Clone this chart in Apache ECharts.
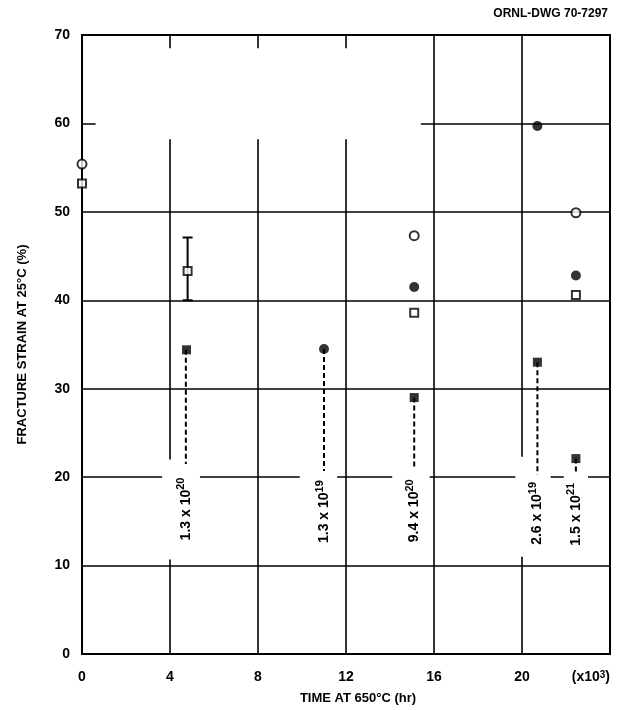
<!DOCTYPE html>
<html>
<head>
<meta charset="utf-8">
<script src="https://cdn.jsdelivr.net/npm/echarts@6/dist/echarts.min.js"></script>
<style>
  html, body { margin: 0; padding: 0; background: #fff; }
  #chart { width: 617px; height: 710px; }
</style>
</head>
<body>
<div id="chart"></div>
<script>
const xTicks = [0, 4, 8, 12, 16, 20]
const yTicks = [0, 10, 20, 30, 40, 50, 60, 70]
const heat5065Irr = [[11.0, 34.5], [15.1, 41.5], [20.7, 59.7], [22.45, 42.8]]
const heat5065Unirr = [[0, 55.4], [15.1, 47.3], [22.45, 49.9]]
const heat5085Irr = [[4.75, 34.4], [15.1, 29.0], [20.7, 33.0], [22.45, 22.1]]
const heat5085Unirr = [[0, 53.2], [4.8, 43.3], [15.1, 38.6], [22.45, 40.6]]
const errorBar5085 = [[4.8, 40.0, 47.1]]
// fluence notes: time, point value, end of dashed leader, label centre
const fluenceTimes = [4.72, 11.0, 15.1, 20.7, 22.45]
const fluenceFrom = [34.4, 34.5, 29.0, 33.0, 22.1]
const fluenceTo = [21.5, 20.7, 20.9, 20.3, 20.6]
const fluenceMid = [16.4, 16.1, 16.2, 15.9, 15.8]
const fluenceMant = ['1.3', '1.3', '9.4', '2.6', '1.5']
const fluenceExp = ['20', '19', '20', '19', '21']

// white gaps in the ruling (x0, x1, y0, y1 in axis units)
const gridBreaks = [
  [0.62, 15.4, 58.2, 68.5],
  [3.64, 5.36, 10.7, 22.0],
  [9.9, 11.6, 12.0, 21.0],
  [14.1, 15.8, 12.0, 21.0],
  [19.7, 21.3, 11.0, 22.3],
  [21.9, 23.0, 12.0, 21.5]
]

const FONT = 'Liberation Sans'
const chart = echarts.init(document.getElementById('chart'))

const fluenceData = fluenceTimes.map((t, i) => [t, fluenceFrom[i], fluenceTo[i], fluenceMid[i], i])

const option = {
  animation: false,
  backgroundColor: '#fff',
  grid: {
    left: 82, right: 7, top: 35, bottom: 54,
    show: true, borderColor: '#000', borderWidth: 2
  },
  xAxis: {
    type: 'value', min: 0, max: 24, interval: 4,
    name: 'TIME AT 650°C (hr)',
    nameLocation: 'middle', nameGap: 38,
    nameTextStyle: { fontFamily: FONT, fontWeight: 'bold', fontSize: 13, color: '#000', padding: [0, 0, 0, 24] },
    axisLine: { show: true, lineStyle: { color: '#000', width: 2 } },
    axisTick: { show: false },
    axisLabel: {
      margin: 16, color: '#000', fontFamily: FONT, fontWeight: 'bold', fontSize: 14,
      alignMaxLabel: 'right',
      formatter: v => (xTicks.indexOf(v) >= 0 ? String(v) : '{p|(x10}{s|3}{p|)}'),
      rich: {
        p: { fontFamily: FONT, fontWeight: 'bold', fontSize: 14, color: '#000' },
        s: { fontFamily: FONT, fontWeight: 'bold', fontSize: 10, color: '#000', verticalAlign: 'top' }
      }
    },
    splitLine: { show: true, lineStyle: { color: '#000', width: 1.6 } }
  },
  yAxis: {
    type: 'value', min: 0, max: 70, interval: 10,
    name: 'FRACTURE STRAIN AT 25°C (%)',
    nameLocation: 'middle', nameGap: 53,
    nameTextStyle: { fontFamily: FONT, fontWeight: 'bold', fontSize: 13, color: '#000' },
    axisLine: { show: true, lineStyle: { color: '#000', width: 2 } },
    axisTick: { show: false },
    axisLabel: {
      margin: 12, color: '#000', fontFamily: FONT, fontWeight: 'bold', fontSize: 14,
      formatter: v => (yTicks.indexOf(v) >= 0 ? String(v) : '')
    },
    splitLine: { show: true, lineStyle: { color: '#000', width: 1.6 } }
  },
  graphic: [
    { type: 'text', right: 9, top: 8, style: { text: 'ORNL-DWG 70-7297', fontFamily: FONT, fontWeight: 'bold', fontSize: 12, fill: '#000' } },
    { type: 'text', left: 104, top: 59, style: { text: 'HEAT', fontFamily: FONT, fontWeight: 'bold', fontSize: 14, fill: '#000' } },
    { type: 'text', left: 174, top: 59, style: { text: 'IRRADIATED', fontFamily: FONT, fontWeight: 'bold', fontSize: 14, fill: '#000' } },
    { type: 'text', left: 293, top: 59, style: { text: 'UNIRRADIATED', fontFamily: FONT, fontWeight: 'bold', fontSize: 14, fill: '#000' } },
    { type: 'text', left: 104, top: 90, style: { text: '5065', fontFamily: FONT, fontWeight: 'bold', fontSize: 14, fill: '#000' } },
    { type: 'text', left: 104, top: 115, style: { text: '5085', fontFamily: FONT, fontWeight: 'bold', fontSize: 14, fill: '#000' } },
    { type: 'circle', shape: { cx: 218, cy: 98, r: 5 }, style: { fill: '#000' } },
    { type: 'rect', shape: { x: 214, y: 119, width: 8, height: 8 }, style: { fill: '#000' } },
    { type: 'circle', shape: { cx: 354, cy: 98, r: 4 }, style: { fill: '#fff', stroke: '#000', lineWidth: 2 } },
    { type: 'rect', shape: { x: 350.5, y: 119.5, width: 7, height: 7 }, style: { fill: '#fff', stroke: '#000', lineWidth: 2 } }
  ],
  series: [
    {
      name: 'breaks', type: 'custom', z: 1, silent: true,
      data: gridBreaks,
      renderItem: (params, api) => {
        const a = api.coord([api.value(0), api.value(3)])
        const b = api.coord([api.value(1), api.value(2)])
        return { type: 'rect', shape: { x: a[0], y: a[1], width: b[0] - a[0], height: b[1] - a[1] }, style: { fill: '#fff' } }
      }
    },
    {
      name: 'fluence', type: 'custom', z: 3, silent: true,
      data: fluenceData,
      renderItem: (params, api) => {
        const i = api.value(4)
        const p0 = api.coord([api.value(0), api.value(1)])
        const p1 = api.coord([api.value(0), api.value(2)])
        const pm = api.coord([api.value(0), api.value(3)])
        return {
          type: 'group',
          children: [
            { type: 'line', shape: { x1: p0[0], y1: p0[1], x2: p1[0], y2: p1[1] }, style: { stroke: '#000', lineWidth: 2, lineDash: [5, 3] } },
            {
              type: 'text', x: pm[0], y: pm[1], rotation: Math.PI / 2,
              style: {
                text: '{m|' + fluenceMant[i] + ' x 10}{e|' + fluenceExp[i] + '}',
                align: 'center', verticalAlign: 'middle',
                rich: {
                  m: { fontFamily: FONT, fontWeight: 'bold', fontSize: 14, fill: '#000', lineHeight: 20 },
                  e: { fontFamily: FONT, fontWeight: 'bold', fontSize: 11, fill: '#000', verticalAlign: 'top', lineHeight: 20 }
                }
              }
            }
          ]
        }
      }
    },
    {
      name: 'errorbar', type: 'custom', z: 3, silent: true,
      data: errorBar5085,
      renderItem: (params, api) => {
        const lo = api.coord([api.value(0), api.value(1)])
        const hi = api.coord([api.value(0), api.value(2)])
        const w = 5
        const st = { stroke: '#000', lineWidth: 2 }
        return {
          type: 'group',
          children: [
            { type: 'line', shape: { x1: lo[0], y1: lo[1], x2: hi[0], y2: hi[1] }, style: st },
            { type: 'line', shape: { x1: lo[0] - w, y1: lo[1], x2: lo[0] + w, y2: lo[1] }, style: st },
            { type: 'line', shape: { x1: hi[0] - w, y1: hi[1], x2: hi[0] + w, y2: hi[1] }, style: st }
          ]
        }
      }
    },
    {
      name: '5065 irradiated', type: 'scatter', z: 5, data: heat5065Irr,
      symbol: 'circle', symbolSize: 10, itemStyle: { color: '#000' }
    },
    {
      name: '5065 unirradiated', type: 'scatter', z: 5, data: heat5065Unirr,
      symbol: 'circle', symbolSize: 9, itemStyle: { color: '#fff', borderColor: '#000', borderWidth: 2 }
    },
    {
      name: '5085 irradiated', type: 'scatter', z: 5, data: heat5085Irr,
      symbol: 'rect', symbolSize: 9, itemStyle: { color: '#000' }
    },
    {
      name: '5085 unirradiated', type: 'scatter', z: 5, data: heat5085Unirr,
      symbol: 'rect', symbolSize: 8, itemStyle: { color: '#fff', borderColor: '#000', borderWidth: 2 }
    }
  ]
}

chart.setOption(option)
</script>
</body>
</html>
